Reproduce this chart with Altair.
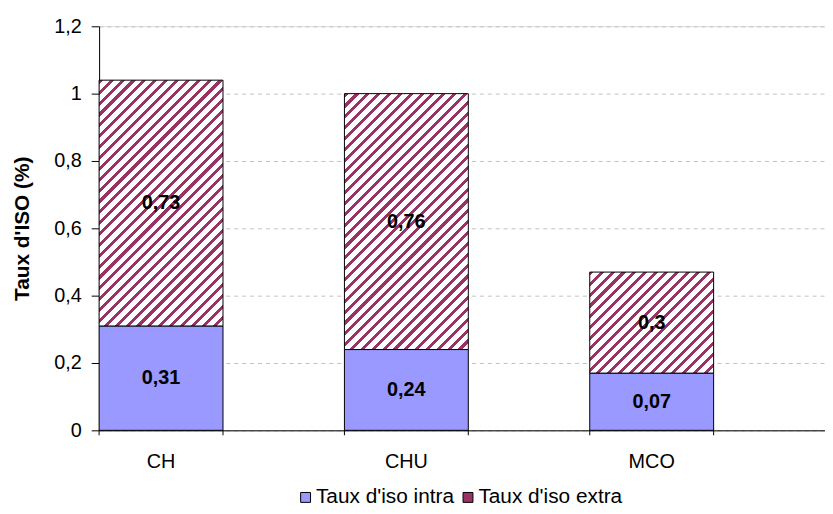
import math
import altair as alt
import pandas as pd

categories = ["CH", "CHU", "MCO"]
intra = [0.31, 0.24, 0.17]
extra = [0.73, 0.76, 0.30]
intra_labels = ["0,31", "0,24", "0,07"]
extra_labels = ["0,73", "0,76", "0,3"]
series = ["Taux d'iso intra", "Taux d'iso extra"]
y_ticks = [0, 0.2, 0.4, 0.6, 0.8, 1.0, 1.2]

W, H = 733, 408
YMAX = 1.2
PAD_INNER = 0.495
PAD_OUTER = 0.227
FONT = "Liberation Sans"
C_INTRA = "#9999ff"
C_EXTRA = "#993366"
FS = 20

df = pd.DataFrame({"cat": categories, "intra": intra, "extra": extra,
                   "il": intra_labels, "el": extra_labels})
df["top"] = df["intra"] + df["extra"]
df["imid"] = df["intra"] / 2
df["emid"] = df["intra"] + df["extra"] / 2
df["serie"] = series[0]

step = W / (len(categories) - PAD_INNER + 2 * PAD_OUTER)
bandw = step * (1 - PAD_INNER)
px_per_unit = H / YMAX


def hatch(w, h, period=7.8, frac=0.38):
    d = (w + h) / math.sqrt(2)
    n = max(1, round(d / period))
    s = (w + h) / (w * w + h * h)
    stops = []
    for i in range(n):
        a = i / n
        b = (i + frac) / n
        c = (i + 1) / n
        stops += [
            alt.GradientStop(offset=a, color=C_EXTRA),
            alt.GradientStop(offset=b, color=C_EXTRA),
            alt.GradientStop(offset=b, color="white"),
            alt.GradientStop(offset=min(c, 1.0), color="white"),
        ]
    return alt.LinearGradient(gradient="linear", stops=stops,
                              x1=0, y1=0, x2=s * w, y2=s * h)


xscale = alt.Scale(domain=categories, paddingInner=PAD_INNER,
                   paddingOuter=PAD_OUTER, align=0)
yscale = alt.Scale(domain=[0, YMAX], nice=False, zero=True)

xaxis = alt.Axis(title=None, ticks=False, labelAngle=0, labelFontSize=FS,
                 labelPadding=22, domainColor="black", labelColor="black",
                 labelFont=FONT, grid=False)
X = alt.X("cat:N", scale=xscale, axis=xaxis)

yaxis = alt.Axis(values=y_ticks, title="Taux d'ISO (%)", titleFontSize=21,
                 titleFontWeight="bold", titleFont=FONT, titleColor="black",
                 labelFontSize=FS, labelFont=FONT, labelColor="black",
                 labelExpr="replace(format(datum.value, '~g'), '.', ',')",
                 tickSize=8, tickColor="black", domainColor="black",
                 grid=True, gridDash=[4, 4], gridColor="#c0c0c0",
                 labelPadding=10, titlePadding=21)

base = alt.Chart(df)

intra_bar = base.mark_bar(stroke="black", strokeWidth=1).encode(
    x=X,
    y=alt.Y("intra:Q", scale=yscale, axis=yaxis),
    color=alt.Color("serie:N",
                    scale=alt.Scale(domain=series, range=[C_INTRA, C_EXTRA]),
                    legend=alt.Legend(orient="none", legendX=198, legendY=465,
                                      direction="horizontal", title=None,
                                      symbolType="square", symbolSize=100,
                                      symbolStrokeColor="black",
                                      symbolStrokeWidth=1,
                                      labelFontSize=21, labelFont=FONT,
                                      labelColor="black", columnPadding=3,
                                      labelOffset=0)),
)

extra_layers = []
for c, e in zip(categories, extra):
    g = hatch(bandw, e * px_per_unit)
    extra_layers.append(
        base.transform_filter(alt.datum.cat == c)
        .mark_bar(fill=g, stroke="black", strokeWidth=1)
        .encode(x=X, y=alt.Y("intra:Q", scale=yscale, axis=yaxis), y2="top:Q")
    )

lbl_i = base.mark_text(font=FONT, fontSize=FS, fontWeight="bold", color="black").encode(
    x=X, y=alt.Y("imid:Q", scale=yscale, axis=yaxis), text="il:N")
lbl_e = base.mark_text(font=FONT, fontSize=FS, fontWeight="bold", color="black").encode(
    x=X, y=alt.Y("emid:Q", scale=yscale, axis=yaxis), text="el:N")

tick0 = base.mark_rule(color="black", strokeWidth=1).encode(
    x=alt.X("cat:N", scale=xscale, axis=xaxis, bandPosition=0),
    y=alt.value(H), y2=alt.value(H + 5))
tick1 = base.mark_rule(color="black", strokeWidth=1).encode(
    x=alt.X("cat:N", scale=xscale, axis=xaxis, bandPosition=1),
    y=alt.value(H), y2=alt.value(H + 5))

chart = alt.layer(intra_bar, *extra_layers, lbl_i, lbl_e, tick0, tick1).properties(
    width=W, height=H,
    autosize=alt.AutoSizeParams(type="none"),
    padding={"left": 92, "top": 16, "right": 0, "bottom": 82},
).configure_view(stroke=None).configure(background="white")

chart.save("out.html", embed_options={"renderer": "svg", "actions": False})
